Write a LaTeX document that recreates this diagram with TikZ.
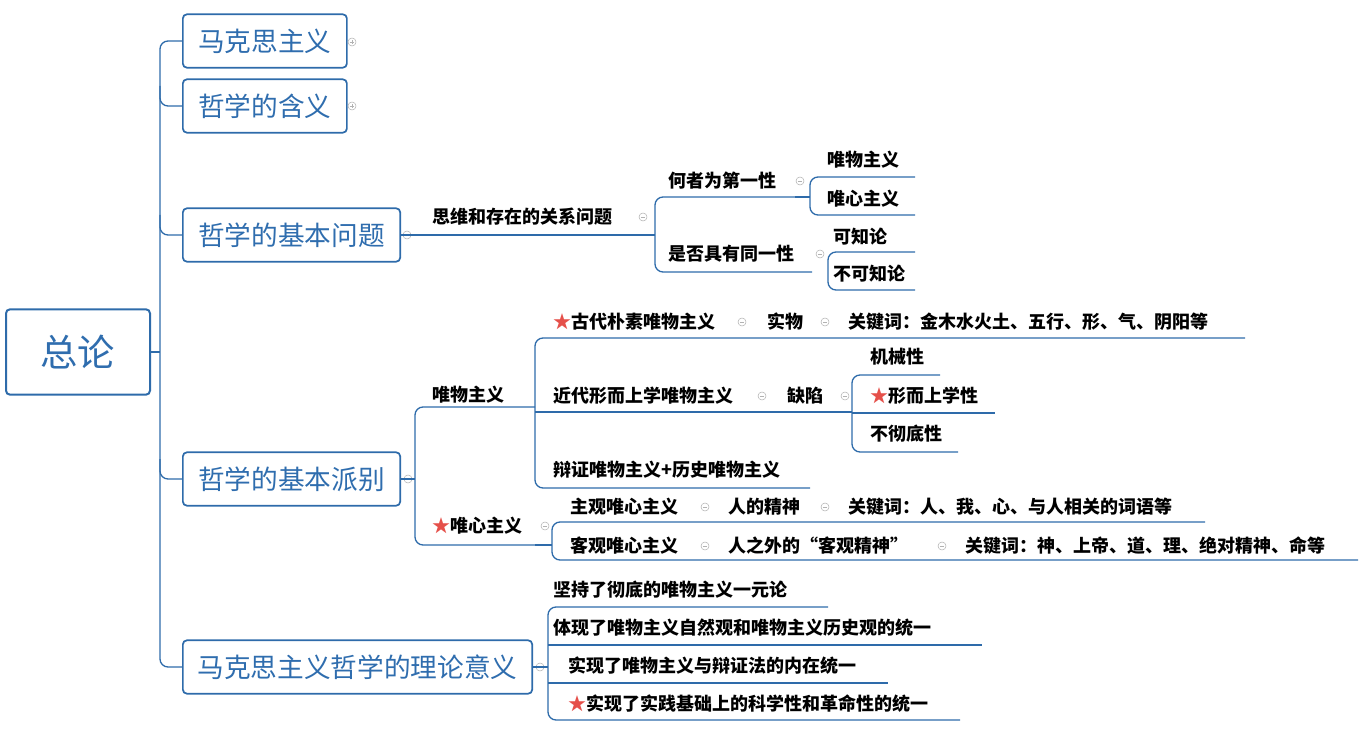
\documentclass[tikz,border=0pt]{standalone}
\usepackage{fontspec}
\setmainfont{Noto Sans CJK SC}
\definecolor{bl}{HTML}{2F6DAE}
\definecolor{ln}{HTML}{2E6BAA}
\definecolor{st}{HTML}{E5504A}
\begin{document}
\begin{tikzpicture}[x=0.75pt,y=-0.75pt,
  box/.style={draw=ln,line width=1.3pt,rounded corners=3pt,text=bl,font=\fontsize{20}{24}\selectfont,anchor=west,minimum height=40pt,inner xsep=10pt},
  tx/.style={anchor=west,font=\bfseries\fontsize{13.5}{16}\selectfont,inner sep=0pt},
  con/.style={draw=ln,line width=1pt,rounded corners=6pt},
  pics/tm/.style={code={\draw[gray!60,line width=0.4pt] (0,0) circle[radius=3pt]; \draw[gray!60,line width=0.4pt] (-1.6pt,0)--(1.6pt,0);}},
  pics/tp/.style={code={\draw[gray!60,line width=0.4pt] (0,0) circle[radius=3pt]; \draw[gray!60,line width=0.4pt] (-1.6pt,0)--(1.6pt,0) (0,-1.6pt)--(0,1.6pt);}}]
\useasboundingbox (0,0) rectangle (1368,734);
\newcommand{\stt}{{\color{st}★}}
% root
\node[box,minimum width=108pt,minimum height=64pt,font=\fontsize{28}{32}\selectfont,line width=1.5pt] (root) at (5,352) {总论};
% level 1
\node[box,minimum width=123pt] (a1) at (182,41) {马克思主义};
\node[box,minimum width=123pt] (a2) at (182,106) {哲学的含义};
\node[box,minimum width=163pt] (a3) at (182,235) {哲学的基本问题};
\node[box,minimum width=163pt] (a4) at (182,479) {哲学的基本派别};
\node[box,minimum width=262pt] (a5) at (182,667) {马克思主义哲学的理论意义};
\draw[con] (root.east) -- (160,352);
\draw[con] (a1.west) -| (160,667) -- (a5.west);
\foreach \n/\y in {a2/106,a3/235,a4/479} \draw[con] (160,\y-20) |- (\n.west);
\pic at (352,42) {tp}; \pic at (352,106) {tp};
\pic at (407,235) {tm}; \pic at (408,479) {tm}; \pic at (540,667) {tm};
% problem
\node[tx] (b1) at (432,217) {思维和存在的关系问题};
\draw[con] (a3.east) -- (640,235);
\pic at (643,217) {tm};
\draw[con] (640,235) -- (655,235);
\node[tx] (c1) at (668,181) {何者为第一性};
\node[tx] (c2) at (668,254) {是否具有同一性};
\draw[con] (795,197) -- (655,197) -- (655,272) -- (812,272);
\pic at (800,181) {tm}; \pic at (820,254) {tm};
\node[tx] (d1) at (827,160) {唯物主义};
\node[tx] (d2) at (827,199) {唯心主义};
\draw[con] (915,177) -- (810,177) -- (810,215) -- (915,215);
\draw[con] (795,197) -- (810,197);
\node[tx] (d3) at (833,237) {可知论};
\node[tx] (d4) at (833,274) {不可知论};
\draw[con] (915,252) -- (828,252) -- (828,290) -- (915,290);
% schools
\draw[con] (a4.east) -- (415,479);
\node[tx] (e1) at (432,395) {唯物主义};
\node[tx] (e2) at (432,526) {\stt 唯心主义};
\draw[con] (535,407) -- (415,407) -- (415,545) -- (535,545);
\draw[con] (1245,338) -- (535,338) -- (535,488) -- (810,488);
\draw[con] (535,412) -- (840,412);
\node[tx] (f1) at (553,322) {\stt 古代朴素唯物主义};
\pic at (742,322) {tm};
\node[tx] (f1a) at (767,322) {实物};
\pic at (825,322) {tm};
\node[tx] (f1b) at (848,322) {关键词：金木水火土、五行、形、气、阴阳等};
\node[tx] (f2) at (553,396) {近代形而上学唯物主义};
\pic at (762,396) {tm};
\node[tx] (f2a) at (787,396) {缺陷};
\pic at (845,396) {tm};
\draw[con] (840,412) -- (852,412);
\draw[con] (940,375) -- (852,375) -- (852,452) -- (958,452);
\draw[con] (852,413) -- (995,413);
\node[tx] (g1) at (870,357) {机械性};
\node[tx] (g2) at (870,396) {\stt 形而上学性};
\node[tx] (g3) at (870,434) {不彻底性};
\node[tx] (f3) at (553,470) {辩证唯物主义+历史唯物主义};
\pic at (545,526) {tm};
\draw[con] (1205,522) -- (552,522) -- (552,560) -- (1358,560);
\draw[con] (535,545) -- (552,545);
\node[tx] (h1) at (570,507) {主观唯心主义};
\pic at (705,507) {tm};
\node[tx] (h1a) at (728,507) {人的精神};
\pic at (825,507) {tm};
\node[tx] (h1b) at (848,507) {关键词：人、我、心、与人相关的词语等};
\node[tx] (h2) at (570,546) {客观唯心主义};
\pic at (705,546) {tm};
\node[tx] (h2a) at (728,546) {人之外的“客观精神”};
\pic at (942,546) {tm};
\node[tx] (h2b) at (965,546) {关键词：神、上帝、道、理、绝对精神、命等};
% significance
\draw[con] (a5.east) -- (548,667);
\draw[con] (828,607) -- (548,607) -- (548,720) -- (960,720);
\draw[con] (548,645) -- (982,645);
\draw[con] (548,683) -- (888,683);
\node[tx] (k1) at (553,590) {坚持了彻底的唯物主义一元论};
\node[tx] (k2) at (553,628) {体现了唯物主义自然观和唯物主义历史观的统一};
\node[tx] (k3) at (568,666) {实现了唯物主义与辩证法的内在统一};
\node[tx] (k4) at (568,704) {\stt 实现了实践基础上的科学性和革命性的统一};
\end{tikzpicture}
\end{document}
